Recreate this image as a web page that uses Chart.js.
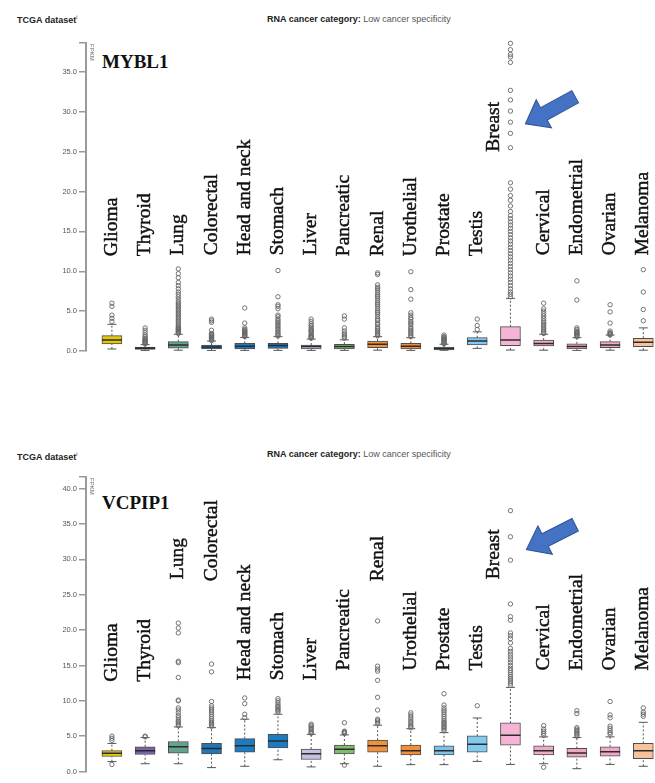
<!DOCTYPE html>
<html>
<head>
<meta charset="utf-8">
<script src="https://cdn.jsdelivr.net/npm/chart.js@4"></script>
<style>
  body { margin:0; width:655px; height:783px; overflow:hidden; position:relative; background:#fff; }
  .hdr { position:absolute; font:9px "Liberation Sans", Arial, sans-serif; line-height:1; color:#222; white-space:nowrap; }
  .hdr b { font-weight:bold; }
  .hdr .lite { color:#555; }
  .hdr sup { font-size:5px; vertical-align:4px; }
  .gene { position:absolute; font:bold 19px "Liberation Serif", serif; line-height:1; color:#111; }
  canvas { position:absolute; left:0; }
</style>
</head>
<body>
<div class="hdr" style="left:17px;top:15px"><b>TCGA dataset</b><sup>i</sup></div>
<div class="hdr" style="left:267px;top:15px"><b>RNA cancer category:</b> <span class="lite">Low cancer specificity</span></div>
<div class="hdr" style="left:17px;top:452px"><b>TCGA dataset</b><sup>i</sup></div>
<div class="hdr" style="left:267px;top:450px"><b>RNA cancer category:</b> <span class="lite">Low cancer specificity</span></div>
<div class="gene" style="left:102px;top:52px">MYBL1</div>
<div class="gene" style="left:102px;top:493px">VCPIP1</div>
<canvas id="top" width="690" height="400" style="top:0"></canvas>
<canvas id="bottom" width="690" height="383" style="top:400px"></canvas>
<script>
// cancer types, left to right
const categories = ['Glioma', 'Thyroid', 'Lung', 'Colorectal', 'Head and neck', 'Stomach', 'Liver',
  'Pancreatic', 'Renal', 'Urothelial', 'Prostate', 'Testis', 'Breast', 'Cervical', 'Endometrial',
  'Ovarian', 'Melanoma'];
const boxColors = ['#e4c800', '#7d62a8', '#63a38b', '#1d77b9', '#1d7cc0', '#1b7bc3', '#c8bfe2',
  '#82ba72', '#f0913c', '#f28d3a', '#7cc3ec', '#84c9f0', '#f6b4d4', '#f0aacb', '#eea6c7',
  '#f0a9ca', '#f9c29e'];
// sideways shift of a label, in category widths (Breast sits left of its outliers)
const labelDx = [0, 0, 0, 0, 0, 0, 0, 0, 0, 0, 0, 0, -0.5, 0, 0, 0, 0];

// MYBL1 (FPKM)
const mybl1Low = [0.25, 0.05, 0.1, 0.05, 0.08, 0.08, 0.08, 0.08, 0.1, 0.08, 0.03, 0.33, 0.12, 0.1, 0.05, 0.1, 0.1];
const mybl1Q1 = [0.88, 0.2, 0.35, 0.25, 0.25, 0.33, 0.25, 0.25, 0.42, 0.25, 0.15, 0.75, 0.67, 0.63, 0.25, 0.42, 0.55];
const mybl1Median = [1.38, 0.33, 0.75, 0.5, 0.6, 0.7, 0.55, 0.55, 0.84, 0.6, 0.3, 1.25, 1.38, 0.95, 0.55, 0.75, 1.1];
const mybl1Q3 = [1.92, 0.5, 1.17, 0.75, 0.96, 0.96, 0.75, 0.85, 1.25, 0.97, 0.5, 1.67, 3.05, 1.38, 0.9, 1.17, 1.6];
const mybl1High = [3.35, 0.8, 2.1, 1.25, 1.7, 1.8, 1.5, 1.4, 1.8, 1.67, 0.85, 2.4, 6.6, 2.1, 1.67, 2.0, 2.9];
const mybl1Outliers = [
  [6.0, 5.6, 4.5, 4.1, 3.7],
  [2.9, 2.6, 2.3, 2.0, 1.8, 1.6, 1.5, 1.4, 1.3, 1.2, 1.1, 1.0, 0.9],
  [10.3, 9.7, 9.2, 8.6, 8.2, 7.8, 7.4, 7.1, 6.8, 6.5, 6.2, 6.0, 5.8, 5.6, 5.4, 5.2, 5.0, 4.8, 4.6, 4.4,
   4.2, 4.0, 3.8, 3.6, 3.4, 3.2, 3.0, 2.9, 2.8, 2.7, 2.6, 2.5, 2.4, 2.3, 2.2],
  [4.0, 3.8, 3.6, 2.6, 2.2, 2.1, 2.0, 1.9, 1.8, 1.7, 1.6, 1.5, 1.4, 1.3],
  [5.4, 3.5, 2.9, 2.7, 2.6, 2.5, 2.4, 2.3, 2.2, 2.1, 2.0, 1.9, 1.8],
  [10.1, 6.8, 5.8, 5.6, 5.3, 4.5, 4.3, 4.0, 3.8, 3.6, 3.4, 3.2, 3.0, 2.8, 2.6, 2.4, 2.2, 2.0, 1.9],
  [4.0, 3.7, 3.4, 3.2, 3.0, 2.8, 2.6, 2.5, 2.4, 2.2, 2.0, 1.9, 1.8, 1.7, 1.6],
  [4.4, 4.0, 2.9, 2.5, 2.2, 2.0, 1.8, 1.6],
  [9.8, 9.6, 8.3, 8.0, 7.8, 7.6, 7.3, 7.0, 6.8, 6.6, 6.3, 6.0, 5.8, 5.6, 5.3, 5.0, 4.8, 4.6, 4.3, 4.0,
   3.8, 3.5, 3.3, 3.0, 2.8, 2.6, 2.4, 2.2, 2.0, 1.9],
  [9.95, 7.7, 6.5, 4.8, 4.5, 4.2, 4.0, 3.7, 3.5, 3.3, 3.0, 2.8, 2.6, 2.4, 2.2, 2.0, 1.8],
  [2.0, 1.8, 1.7, 1.6, 1.5, 1.4, 1.3, 1.2, 1.1, 1.0, 0.9],
  [4.0, 3.2, 2.7],
  [38.6, 37.8, 37.2, 36.9, 36.2, 32.7, 31.5, 30.1, 28.7, 27.3, 25.5, 21.1, 20.3, 19.5, 18.9, 18.2, 17.5,
   17.0, 16.6, 16.2, 15.8, 15.4, 15.0, 14.6, 14.2, 13.8, 13.4, 13.0, 12.6, 12.2, 11.8, 11.4, 11.0, 10.6,
   10.2, 9.8, 9.4, 9.0, 8.6, 8.2, 7.8, 7.4, 7.1, 6.8],
  [6.0, 5.3, 5.0, 4.7, 4.4, 4.1, 3.8, 3.6, 3.4, 3.2, 3.0, 2.8, 2.6, 2.4, 2.2],
  [8.8, 6.4, 2.9, 2.7, 2.5, 2.4, 2.3, 2.2, 2.1, 2.0, 1.9, 1.8],
  [5.8, 4.9, 3.5, 2.5, 2.3, 2.2, 2.1, 2.0],
  [10.2, 7.4, 5.2, 3.8]
];
const mybl1LabelAt = [11.9, 11.9, 12.0, 12.0, 12.0, 12.0, 12.0, 11.9, 11.9, 11.9, 11.9, 11.9, 25.0, 12.0, 12.0, 12.0, 12.0];
const mybl1Ticks = [0, 5, 10, 15, 20, 25, 30, 35];
const mybl1Max = 38.64;

// VCPIP1 (FPKM)
const vcpip1Low = [1.4, 1.1, 1.1, 0.55, 0.74, 1.66, 0.65, 1.1, 0.74, 0.97, 0.97, 1.43, 1.0, 1.1, 0.4, 1.0, 0.74];
const vcpip1Q1 = [2.12, 2.4, 2.6, 2.5, 2.72, 3.32, 1.7, 2.5, 2.72, 2.35, 2.35, 2.72, 3.74, 2.35, 2.03, 2.17, 1.8];
const vcpip1Median = [2.58, 2.95, 3.5, 3.27, 3.64, 4.33, 2.5, 3.14, 3.64, 2.95, 2.95, 3.87, 5.12, 2.95, 2.63, 2.81, 2.95];
const vcpip1Q3 = [2.95, 3.5, 4.25, 4.0, 4.66, 5.26, 3.18, 3.74, 4.43, 3.74, 3.64, 5.03, 6.87, 3.64, 3.28, 3.5, 3.97];
const vcpip1High = [3.97, 4.8, 6.3, 6.2, 7.4, 8.1, 5.26, 5.17, 6.55, 6.05, 5.5, 7.57, 11.9, 4.9, 4.8, 4.9, 6.96];
const vcpip1Outliers = [
  [5.0, 4.7, 4.4, 1.0],
  [5.0, 4.9],
  [21.0, 20.3, 19.6, 15.6, 15.4, 13.3, 10.1, 10.0, 9.0, 8.7, 8.3, 7.9, 7.6, 7.3, 7.1, 6.9, 6.7, 6.5],
  [15.2, 14.1, 9.9, 9.3, 9.0, 8.7, 8.4, 8.1, 7.8, 7.5, 7.2, 7.0, 6.8, 6.6, 6.4],
  [10.4, 9.6, 8.1, 7.6],
  [10.3, 10.0, 9.7, 9.4, 9.2, 9.0, 8.8, 8.6, 8.4],
  [6.7, 6.5, 6.3, 6.1, 5.9, 5.7, 5.5, 5.4],
  [6.9, 5.7, 5.6, 5.5, 5.4, 0.9],
  [21.3, 14.9, 14.5, 14.2, 12.9, 10.5, 8.7, 7.4, 7.2, 7.0, 6.8],
  [8.3, 8.0, 7.7, 7.4, 7.1, 6.9, 6.6, 6.4, 6.2],
  [11.0, 9.4, 9.0, 8.7, 8.4, 8.1, 7.8, 7.5, 7.2, 7.0, 6.8, 6.6, 6.4, 6.2, 6.0, 5.8],
  [9.3],
  [36.9, 33.2, 29.9, 23.7, 21.9, 21.4, 19.6, 19.2, 18.8, 18.2, 17.4, 17.0, 16.6, 16.2, 15.8, 15.4, 15.0,
   14.6, 14.3, 14.0, 13.7, 13.4, 13.1, 12.8, 12.5, 12.2],
  [6.5, 6.0, 5.7, 5.4, 5.1, 0.6],
  [8.6, 8.2, 6.2, 6.0, 5.8, 5.6, 5.4, 5.2, 5.0],
  [9.9, 8.0, 7.6, 6.4, 6.1, 5.8, 5.5, 5.3],
  [9.0, 8.4, 8.1, 7.8]
];
const vcpip1LabelAt = [12.7, 12.7, 27.2, 26.9, 12.9, 12.9, 12.9, 14.3, 26.9, 14.3, 14.3, 14.3, 27.2, 14.3, 14.3, 14.3, 14.3];
const vcpip1Ticks = [0, 5, 10, 15, 20, 25, 30, 35, 40];
const vcpip1Max = 41.66;

// blue arrows pointing at the Breast outliers: [tailX, tailY, tipX, tipY] in axis units
const mybl1Arrow = [13.95, 31.9, 12.45, 28.5];
const vcpip1Arrow = [13.95, 34.9, 12.48, 31.4];

const axisGray = '#9a9a9a';

const boxLabels = {
  id: 'boxLabels',
  afterDatasetsDraw(chart, args, opts) {
    const { ctx, scales: { x, y } } = chart;
    ctx.save();
    ctx.fillStyle = '#111';
    ctx.strokeStyle = '#111';
    ctx.lineWidth = 0.45;
    ctx.font = '19.5px "Liberation Serif", serif';
    ctx.textAlign = 'left';
    ctx.textBaseline = 'alphabetic';
    categories.forEach((c, i) => {
      ctx.save();
      ctx.translate(x.getPixelForValue(i + labelDx[i]) + 5, y.getPixelForValue(opts.at[i]));
      ctx.rotate(-Math.PI / 2);
      ctx.fillText(c, 0, 0);
      ctx.strokeText(c, 0, 0);
      ctx.restore();
    });
    // y axis unit
    ctx.save();
    ctx.fillStyle = '#666';
    ctx.font = '6px "Liberation Sans", Arial, sans-serif';
    ctx.translate(chart.chartArea.left + 4, chart.chartArea.top + 1);
    ctx.rotate(Math.PI / 2);
    ctx.fillText('FPKM', 0, 0);
    ctx.restore();
    ctx.restore();
  },
  afterDraw(chart, args, opts) {
    const { ctx, scales: { x, y } } = chart;
    const [tx, ty, hx, hy] = opts.arrow;
    const x0 = x.getPixelForValue(tx), y0 = y.getPixelForValue(ty);
    const x1 = x.getPixelForValue(hx), y1 = y.getPixelForValue(hy);
    const len = Math.hypot(x1 - x0, y1 - y0);
    ctx.save();
    ctx.translate(x0, y0);
    ctx.rotate(Math.atan2(y1 - y0, x1 - x0));
    const head = 21, shaft = 7, wing = 16;
    ctx.beginPath();
    ctx.moveTo(0, -shaft);
    ctx.lineTo(len - head, -shaft);
    ctx.lineTo(len - head, -wing);
    ctx.lineTo(len, 0);
    ctx.lineTo(len - head, wing);
    ctx.lineTo(len - head, shaft);
    ctx.lineTo(0, shaft);
    ctx.closePath();
    ctx.fillStyle = '#4472c4';
    ctx.fill();
    ctx.strokeStyle = '#2f5597';
    ctx.lineWidth = 1;
    ctx.stroke();
    ctx.restore();
  }
};

function makePanel(id, low, q1, med, q3, high, outliers, labelAt, tickVals, yMax, arrow, padTop, padBottom) {
  const whiskers = [];
  const caps = [];
  categories.forEach((c, i) => {
    whiskers.push({ x: i, y: low[i] }, { x: i, y: q1[i] }, { x: i, y: null });
    whiskers.push({ x: i, y: q3[i] }, { x: i, y: high[i] }, { x: i, y: null });
    caps.push({ x: i, y: low[i] }, { x: i, y: high[i] });
  });
  const outPts = [];
  outliers.forEach((list, i) => list.forEach(v => outPts.push({ x: i, y: v })));

  return new Chart(document.getElementById(id), {
    type: 'bar',
    data: {
      datasets: [
        {
          type: 'bar',
          data: categories.map((c, i) => ({ x: i, y: [q1[i], q3[i]] })),
          backgroundColor: boxColors,
          borderColor: '#4d4d4d',
          borderWidth: 1,
          borderSkipped: false,
          barThickness: 20,
          order: 3
        },
        {
          type: 'line',
          data: whiskers,
          borderColor: '#555',
          borderWidth: 1,
          borderDash: [2, 2],
          pointRadius: 0,
          spanGaps: false,
          order: 4
        },
        {
          type: 'scatter',
          data: caps,
          pointStyle: 'line',
          pointRadius: 4.5,
          borderColor: '#555',
          borderWidth: 1,
          order: 2
        },
        {
          type: 'scatter',
          data: categories.map((c, i) => ({ x: i, y: med[i] })),
          pointStyle: 'line',
          pointRadius: 10,
          borderColor: '#2b2b2b',
          borderWidth: 1.5,
          order: 1
        },
        {
          type: 'scatter',
          data: outPts,
          pointRadius: 2.2,
          borderColor: '#666',
          borderWidth: 0.9,
          backgroundColor: 'rgba(255,255,255,0)',
          clip: 4,
          order: 1
        }
      ]
    },
    options: {
      responsive: false,
      animation: false,
      events: [],
      layout: { padding: { left: 0, right: 10, top: padTop, bottom: padBottom } },
      plugins: {
        legend: { display: false },
        tooltip: { enabled: false },
        boxLabels: { at: labelAt, arrow: arrow }
      },
      scales: {
        x: { type: 'linear', display: false, offset: false, min: -0.78, max: 17.06 },
        y: {
          min: 0,
          max: yMax,
          afterFit(scale) { scale.width = 86; },
          afterBuildTicks(scale) { scale.ticks = tickVals.concat([yMax]).map(v => ({ value: v })); },
          ticks: {
            color: '#555',
            padding: 2,
            font: { size: 7.5, family: '"Liberation Sans", Arial, sans-serif' },
            callback: v => (v === yMax ? '' : v.toFixed(1))
          },
          grid: { drawOnChartArea: false, drawTicks: true, tickLength: 7, color: axisGray, lineWidth: 1.5 },
          border: { display: true, color: axisGray, width: 2 }
        }
      }
    },
    plugins: [boxLabels]
  });
}

makePanel('top', mybl1Low, mybl1Q1, mybl1Median, mybl1Q3, mybl1High, mybl1Outliers, mybl1LabelAt,
  mybl1Ticks, mybl1Max, mybl1Arrow, 43, 49);
makePanel('bottom', vcpip1Low, vcpip1Q1, vcpip1Median, vcpip1Q3, vcpip1High, vcpip1Outliers, vcpip1LabelAt,
  vcpip1Ticks, vcpip1Max, vcpip1Arrow, 77, 5);
</script>
</body>
</html>
